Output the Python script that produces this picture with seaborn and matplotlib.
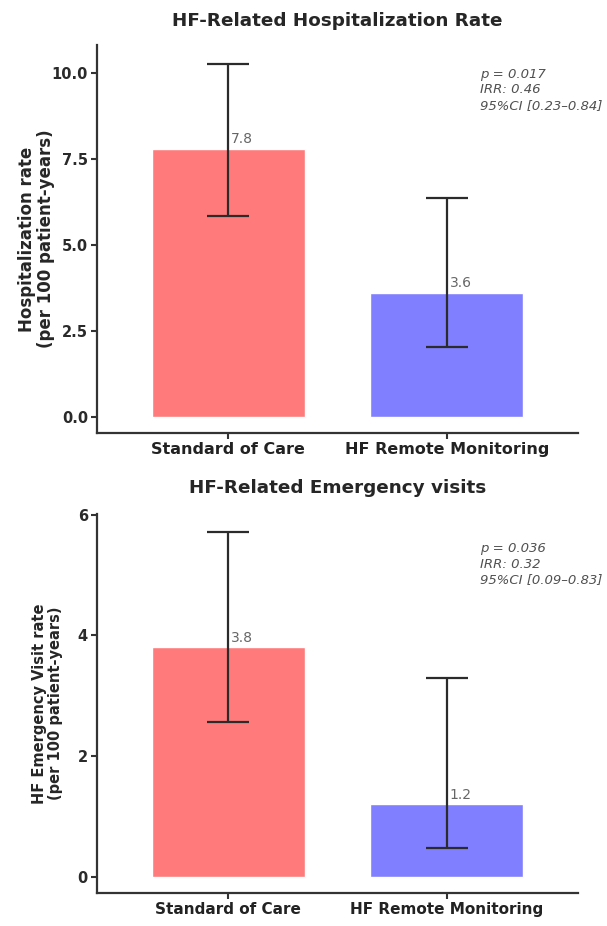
import pandas as pd
import matplotlib
matplotlib.use("Agg")
import matplotlib.pyplot as plt
import seaborn as sns

# Data
groups = ["Standard of Care", "HF Remote Monitoring"]
colors = ["#FF7B7B", "#7F7FFF"]

hosp_rate = [7.8, 3.6]
hosp_low = [5.85, 2.03]
hosp_high = [10.25, 6.35]
hosp_stats = "p = 0.017\nIRR: 0.46\n95%CI [0.23\u20130.84]"

ed_rate = [3.8, 1.2]
ed_low = [2.57, 0.48]
ed_high = [5.71, 3.29]
ed_stats = "p = 0.036\nIRR: 0.32\n95%CI [0.09\u20130.83]"

sns.set_style("ticks")
plt.rcParams["font.family"] = ["DejaVu Sans"]

fig = plt.figure(figsize=(6.07, 9.26), dpi=100)
ax1 = fig.add_axes([0.1598, 0.5324, 0.7924, 0.419])
ax2 = fig.add_axes([0.1598, 0.0356, 0.7924, 0.4093])


def panel(ax, rate, low, high, stats, title, ylabel, ylim, yticks, ytl,
          title_pad, lab_x, ylab_size, xt_size, stats_y):
    df = pd.DataFrame({"group": groups, "rate": rate, "low": low, "high": high})
    sns.barplot(data=df, x="group", y="rate", hue="group", palette=colors,
                width=0.7, errorbar=None, legend=False, ax=ax, saturation=1)
    mid = (df["low"] + df["high"]) / 2
    ax.errorbar(range(len(df)), mid, yerr=[mid - df["low"], df["high"] - mid],
                fmt="none", ecolor="#2b2b2b", elinewidth=1.6, capsize=15,
                capthick=1.6)
    for i, v in enumerate(df["rate"]):
        ax.annotate(f"{v:.1f}", (i, v), xytext=(2, 2), textcoords="offset points",
                    ha="left", va="bottom", fontsize=10, color="#666666")
    ax.text(0.797, stats_y, stats, transform=ax.transAxes, ha="left", va="top",
            fontsize=9.5, style="italic", color="#505050", linespacing=1.25)
    ax.set_xlim(-0.6, 1.6)
    ax.set_ylim(*ylim)
    ax.set_yticks(yticks)
    ax.set_yticklabels(ytl)
    ax.set_xlabel("")
    ax.set_ylabel(ylabel, fontsize=ylab_size, fontweight="bold", linespacing=1.1)
    ax.yaxis.set_label_coords(lab_x, 0.5)
    ax.set_title(title, fontsize=13.2, fontweight="bold", pad=title_pad)
    for lab in ax.get_yticklabels():
        lab.set_fontweight("bold")
        lab.set_fontsize(10.5)
        lab.set_color("#2a2a2a")
    for lab in ax.get_xticklabels():
        lab.set_fontweight("bold")
        lab.set_fontsize(xt_size)
        lab.set_color("#222222")
    ax.tick_params(axis="both", length=4.5, width=1.5, color="#333333", pad=2)
    sns.despine(ax=ax)
    for s in ["left", "bottom"]:
        ax.spines[s].set_linewidth(1.6)
        ax.spines[s].set_color("#333333")


panel(ax1, hosp_rate, hosp_low, hosp_high, hosp_stats,
      "HF-Related Hospitalization Rate",
      "Hospitalization rate\n(per 100 patient-years)",
      (-0.465, 10.81), [0, 2.5, 5, 7.5, 10], ["0.0", "2.5", "5.0", "7.5", "10.0"],
      14, -0.087, 12, 11.5, 0.941)

panel(ax2, ed_rate, ed_low, ed_high, ed_stats,
      "HF-Related Emergency visits",
      "HF Emergency Visit rate\n(per 100 patient-years)",
      (-0.27, 6.01), [0, 2, 4, 6], ["0", "2", "4", "6"],
      15, -0.071, 10.5, 11, 0.926)

fig.savefig("out.png", dpi=100)
